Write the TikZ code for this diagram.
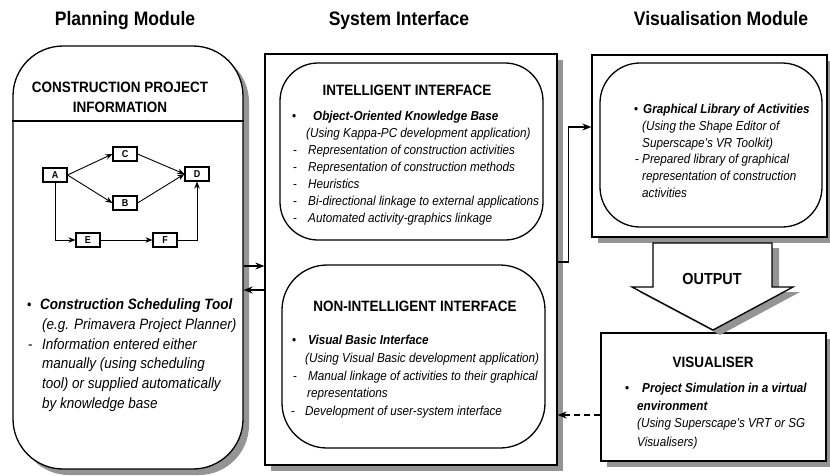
\documentclass[tikz,border=0pt]{standalone}
\usepackage{fontspec}
\setmainfont{Liberation Sans}[FakeStretch=0.9]
\usetikzlibrary{arrows.meta,shadows}
\begin{document}
\begin{tikzpicture}[x=1pt,y=-1pt,
  shd/.style={drop shadow={shadow xshift=6pt,shadow yshift=-6pt,fill=black!42,opacity=1}},
  box/.style={draw,line width=1.3pt,fill=white,inner sep=0},
  rbox/.style={draw,line width=1.3pt,fill=white,inner sep=0},
  arr/.style={line width=1.2pt,-{Stealth[length=9pt,width=7pt]}},
  narr/.style={line width=0.9pt,-{Stealth[length=7pt,width=5.5pt]}},
  netbox/.style={draw,line width=1.1pt,fill=white,minimum width=24pt,minimum height=14pt,inner sep=0,font=\fontsize{10}{10}\selectfont\bfseries},
  ttl/.style={font=\fontsize{19.5}{22}\selectfont\bfseries,anchor=base,inner sep=0},
  hd/.style={font=\fontsize{15}{18}\selectfont\bfseries,anchor=base,inner sep=0},
  bodyL/.style={font=\fontsize{15}{18}\selectfont\itshape,anchor=base west,inner sep=0},
  body/.style={font=\fontsize{13}{16}\selectfont\itshape,anchor=base west,inner sep=0},
  bul/.style={font=\fontsize{13}{16}\selectfont,anchor=base west,inner sep=0}]
\useasboundingbox (0,0) rectangle (830,475);

% titles
\node[ttl] (t1) at (125,25) {Planning Module};
\node[ttl] (t2) at (399,25) {System Interface};
\node[ttl] (t3) at (721,25) {Visualisation Module};

% main boxes
\node[box,shd,rounded corners=50pt,minimum width=230pt,minimum height=423pt] (plan) at (128,257.5) {};
\node[box,shd,minimum width=292pt,minimum height=411pt] (mid) at (411,259.5) {};
\node[box,shd,minimum width=235pt,minimum height=182pt] (vis) at (709.5,146) {};
\node[rbox,rounded corners=40pt,minimum width=222pt,minimum height=164pt] (lib) at (711,145) {};
\node[rbox,rounded corners=38pt,minimum width=263pt,minimum height=177pt] (intel) at (411.5,151.5) {};
\node[rbox,rounded corners=45pt,minimum width=263pt,minimum height=183pt] (nonintel) at (413.5,356.5) {};
\node[box,shd,minimum width=225pt,minimum height=128pt] (visr) at (713.5,397) {};

% output arrow
\draw[line width=1.3pt,fill=white,drop shadow={shadow xshift=7pt,shadow yshift=-5pt,fill=black!42,opacity=1}]
  (653,243) -- (653,287) -- (632,287) -- (713,330) -- (793,287) -- (772,287) -- (772,243) -- cycle;
\node[font=\fontsize{16}{18}\selectfont\bfseries,anchor=base,inner sep=0] (outp) at (712,284) {OUTPUT};

% planning module divider
\draw[line width=1.2pt] (plan.west |- 0,121) -- (plan.east |- 0,121);
\node[hd] (h1) at (120,92) {CONSTRUCTION PROJECT};
\node[hd] (h2) at (120,112) {INFORMATION};

% network
\node[netbox] (A) at (55,175) {A};
\node[netbox] (C) at (125,154) {C};
\node[netbox] (B) at (125,203) {B};
\node[netbox] (D) at (197,174) {D};
\node[netbox] (E) at (88,240) {E};
\node[netbox] (F) at (165,240) {F};
\draw[narr] (A.east) -- (C.west);
\draw[narr] (A.east) -- (B.west);
\draw[narr] (C.east) -- (D.west);
\draw[narr] (B.east) -- (D.west);
\draw[narr] (A.south) |- (E.west);
\draw[narr] (E.east) -- (F.west);
\draw[narr] (F.east) -| (D.south);

% planning text
\node[bul,font=\fontsize{14}{18}\selectfont] (lb1) at (27,309) {•};
\node[bodyL] (l1) at (40,309) {\bfseries Construction Scheduling Tool};
\node[bodyL] (l2) at (42,329) {(e.g. Primavera Project Planner)};
\node[bul,font=\fontsize{15}{18}\selectfont] (lb2) at (28,349) {-};
\node[bodyL] (l3) at (42,349) {Information entered either};
\node[bodyL] (l4) at (42,368.5) {manually (using scheduling};
\node[bodyL] (l5) at (42,388) {tool) or supplied automatically};
\node[bodyL] (l6) at (42,408) {by knowledge base};

% intelligent interface
\node[hd] (h3) at (407,95.5) {INTELLIGENT INTERFACE};
\node[bul] (ib1) at (292,120) {•};
\node[body] (i1) at (313,120) {\bfseries Object-Oriented Knowledge Base};
\node[body] (i2) at (306,137) {(Using Kappa-PC development application)};
\node[bul] (ib2) at (293,154) {-};
\node[body] (i3) at (308,154) {Representation of construction activities};
\node[bul] (ib3) at (293,171) {-};
\node[body] (i4) at (308,171) {Representation of construction methods};
\node[bul] (ib4) at (293,188) {-};
\node[body] (i5) at (308,188) {Heuristics};
\node[bul] (ib5) at (293,205) {-};
\node[body] (i6) at (308,205) {Bi-directional linkage to external applications};
\node[bul] (ib6) at (293,222) {-};
\node[body] (i7) at (308,222) {Automated activity-graphics linkage};

% non-intelligent interface
\node[hd] (h4) at (415,311.5) {NON-INTELLIGENT INTERFACE};
\node[bul] (nb1) at (292,344) {•};
\node[body] (n1) at (308,344) {\bfseries Visual Basic Interface};
\node[body] (n2) at (305,362) {(Using Visual Basic development application)};
\node[bul] (nb2) at (293,380) {-};
\node[body] (n3) at (308,380) {Manual linkage of activities to their graphical};
\node[body] (n4) at (307,397) {representations};
\node[bul] (nb3) at (291,415) {-};
\node[body] (n5) at (305,415) {Development of user-system interface};

% graphical library
\node[bul] (gb1) at (634,113) {•};
\node[body] (g1) at (643,113) {\bfseries Graphical Library of Activities};
\node[body] (g2) at (642,130) {(Using the Shape Editor of};
\node[body] (g3) at (642,147) {Superscape's VR Toolkit)};
\node[bul] (gb2) at (635,163) {-};
\node[body] (g4) at (642,163) {Prepared library of graphical};
\node[body] (g5) at (642,180) {representation of construction};
\node[body] (g6) at (642,197) {activities};

% visualiser
\node[hd] (h5) at (713,367) {VISUALISER};
\node[bul] (vb1) at (625,392) {•};
\node[body] (v1) at (642,392) {\bfseries Project Simulation in a virtual};
\node[body] (v2) at (637,410) {\bfseries environment};
\node[body] (v3) at (637,427) {(Using Superscape's VRT or SG};
\node[body] (v4) at (637,446) {Visualisers)};

% connectors
\coordinate (a1) at ([yshift=-8.5pt]plan.east);
\draw[arr] (a1) -- (a1 -| mid.west);
\coordinate (a2) at ([yshift=-32.5pt]plan.east);
\draw[arr] (a2 -| mid.west) -- (a2);
\coordinate (a3) at ([yshift=-2.5pt]mid.east);
\coordinate (a3b) at ([xshift=11pt]a3);
\coordinate (a4) at ([yshift=19pt]vis.west);
\draw[arr] (a3) -- (a3b) |- (a4);
\coordinate (a5) at ([yshift=-18pt]visr.west);
\draw[arr,dashed,dash pattern=on 6pt off 4pt] (a5) -- (a5 -| mid.east);
\end{tikzpicture}
\end{document}
